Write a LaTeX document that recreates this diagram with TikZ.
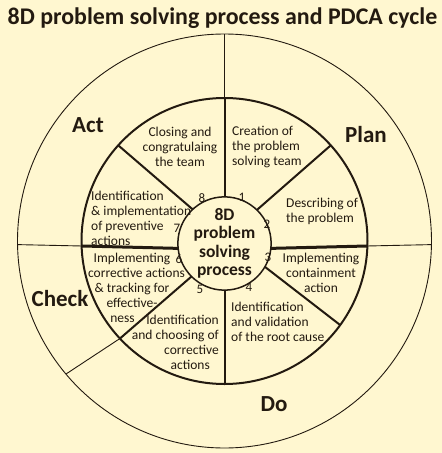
\documentclass[tikz,border=0pt]{standalone}
\usepackage{fontspec}
\setmainfont{Carlito}
\definecolor{bg}{RGB}{255,247,208}
\definecolor{ink}{RGB}{35,26,16}
\tikzset{
  ring/.style={circle, draw=ink, inner sep=0pt, outer sep=0pt, fill=none},
  thin line/.style={draw=ink, line width=0.9pt},
  thick line/.style={draw=ink, line width=2pt},
  heavy line/.style={draw=ink, line width=3pt},
  body/.style={text=ink, inner sep=0pt, font=\fontsize{13.5}{15}\selectfont},
  num/.style={text=ink, inner sep=0pt, font=\fontsize{13}{15}\selectfont},
  phase/.style={text=ink, inner sep=0pt, font=\fontsize{23}{26}\selectfont\bfseries},
}
\begin{document}
\begin{tikzpicture}[x=1pt,y=-1pt]
\fill[bg] (0,0) rectangle (442,453);
\useasboundingbox (0,0) rectangle (442,453);
\node[text=ink, inner sep=0pt, font=\fontsize{23.9}{26}\selectfont\bfseries] (title) at (222.5,18) {8D problem solving process and PDCA cycle};
% circles
\node[ring, line width=0.9pt, minimum size=414pt] (outer) at (224.5,241) {};
\node[ring, line width=2pt, minimum size=286pt] (mid) at (224.5,241) {};
\node[ring, line width=1.5pt, minimum size=86pt, align=center,
      font=\fontsize{17.5}{18.5}\selectfont\bfseries, text=ink] (core) at (224.5,243.5)
      {8D\\problem\\solving\\process};
% outer ring dividers
\draw[thin line] (outer.90) -- (mid.90);
\draw[thin line] (mid.-2.8) -- (outer.-1.9);
\draw[thin line] (mid.182.8) -- (outer.181.9);
\draw[thin line] (mid.223.2) -- (outer.220.6);
% mid ring dividers
\draw[thick line] (core.90) -- (mid.90);
\draw[thick line] (core.46.8) -- (mid.42.8);
\draw[heavy line] (core.-6) -- (mid.-2.8);
\draw[thick line] (core.-30) -- (mid.-36);
\draw[thick line] (core.-90) -- (mid.-90);
\draw[thick line] (core.225) -- (mid.223.2);
\draw[heavy line] (core.186) -- (mid.182.8);
\draw[thick line] (core.133) -- (mid.138.4);
% sector texts
\node[body, align=center] (s8) at (180,147) {Closing and\\congratulaing\\the team};
\node[body, align=left, anchor=west] (s1) at (232,147) {Creation of\\the problem\\solving team};
\node[body, align=left, anchor=west] (s2) at (286,211) {Describing of\\the problem};
\node[body, align=center] (s3) at (321,273) {Implementing\\containment\\action};
\node[body, align=left, anchor=west] (s4) at (231,322) {Identification\\and validation\\of the root cause};
\node[body, align=right, anchor=east] (s5) at (219,342) {Identification\\and choosing of\\corrective\hspace*{6pt}\\actions\hspace*{9pt}};
\node[body, align=center] (s6) at (132,288) {Implementing\\\hspace*{9pt}corrective actions\\\& tracking for\\effective-\hspace*{10pt}\\ness\hspace*{19pt}};
\node[body, align=left, anchor=west] (s7) at (91,218) {Identification\\\& implementation\\of preventive\\actions};
% numbers
\node[num] (n1) at (242,197) {1};
\node[num] (n2) at (267,224) {2};
\node[num] (n3) at (268,257) {3};
\node[num] (n4) at (249,287) {4};
\node[num] (n5) at (200,289) {5};
\node[num] (n6) at (179,259) {6};
\node[num] (n7) at (177,228) {7};
\node[num] (n8) at (202,198) {8};
% PDCA labels
\node[phase] (act) at (88,125) {Act};
\node[phase] (plan) at (366,135) {Plan};
\node[phase] (check) at (60,299) {Check};
\node[phase] (do) at (274,404) {Do};
\end{tikzpicture}
\end{document}
